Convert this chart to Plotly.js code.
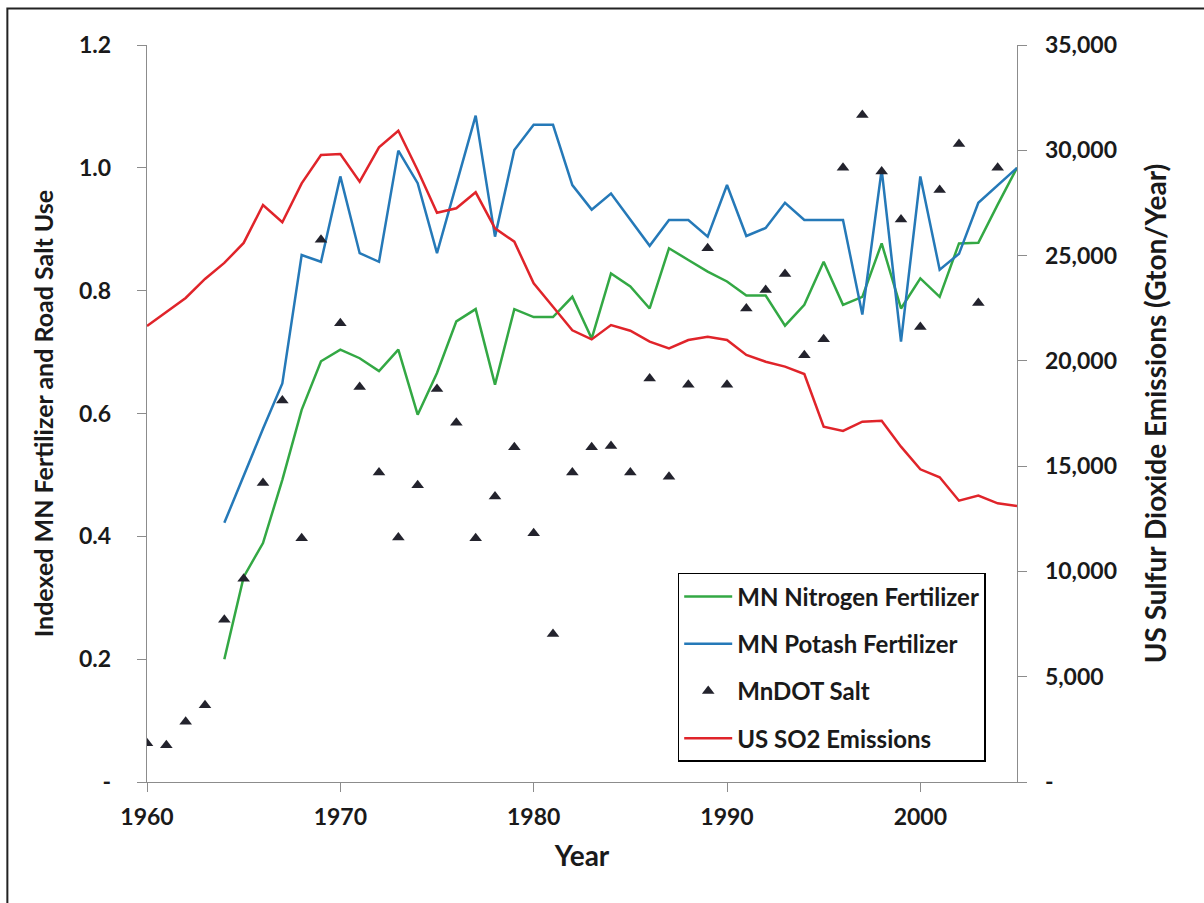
<!DOCTYPE html>
<html>
<head>
<meta charset="utf-8">
<script src="https://cdn.plot.ly/plotly-3.0.1.min.js"></script>
<style>html,body{margin:0;padding:0;background:#fff;}#chart{width:1204px;height:903px;}</style>
</head>
<body>
<div id="chart"></div>
<script>
const years = [];
for (let y = 1960; y <= 2005; y++) years.push(y);

const fertYears = [1964,1965,1966,1967,1968,1969,1970,1971,1972,1973,1974,1975,1976,1977,1978,1979,1980,1981,1982,1983,1984,1985,1986,1987,1988,1989,1990,1991,1992,1993,1994,1995,1996,1997,1998,1999,2000,2001,2002,2003,2004,2005];

const nitrogen = [0.200,0.334,0.389,0.492,0.606,0.685,0.704,0.690,0.669,0.704,0.598,0.666,0.750,0.770,0.647,0.770,0.757,0.757,0.790,0.722,0.828,0.807,0.771,0.869,0.850,0.831,0.815,0.792,0.792,0.743,0.777,0.847,0.777,0.790,0.877,0.771,0.820,0.790,0.877,0.878,0.940,1.000];

const potash = [0.422,0.500,0.575,0.649,0.858,0.847,0.986,0.861,0.847,1.028,0.975,0.861,0.972,1.085,0.888,1.029,1.070,1.070,0.972,0.932,0.958,0.915,0.873,0.915,0.915,0.888,0.972,0.889,0.902,0.943,0.915,0.915,0.915,0.761,0.997,0.717,0.986,0.834,0.860,0.943,0.972,1.000];

const saltYears = [1960,1961,1962,1963,1964,1965,1966,1967,1968,1969,1970,1971,1972,1973,1974,1975,1976,1977,1978,1979,1980,1981,1982,1983,1984,1985,1986,1987,1988,1989,1990,1991,1992,1993,1994,1995,1996,1997,1998,1999,2000,2001,2002,2003,2004];

const salt = [0.063,0.060,0.098,0.125,0.264,0.331,0.487,0.621,0.397,0.883,0.747,0.643,0.504,0.398,0.483,0.640,0.585,0.397,0.465,0.545,0.405,0.241,0.504,0.545,0.547,0.504,0.657,0.497,0.647,0.869,0.647,0.771,0.801,0.827,0.695,0.721,1.000,1.086,0.994,0.916,0.741,0.964,1.039,0.780,1.000];

const so2 = [21650,22320,22985,23890,24650,25600,27400,26580,28430,29775,29820,28510,30140,30930,29050,27035,27245,28005,26295,25660,23680,22570,21450,21020,21700,21430,20910,20595,20990,21140,20990,20280,19960,19725,19375,16875,16670,17110,17160,15925,14850,14470,13360,13600,13235,13110];

const leftTickVals = [0,0.2,0.4,0.6,0.8,1.0,1.2];
const leftTickText = ['-','0.2','0.4','0.6','0.8','1.0','1.2'];
const rightTickVals = [0,5000,10000,15000,20000,25000,30000,35000];
const rightTickText = ['-','5,000','10,000','15,000','20,000','25,000','30,000','35,000'];
const xTickVals = [1960,1970,1980,1990,2000];

const FONT = 'Lato, "Open Sans", sans-serif';
const TXT = '#1a1a1a';
const AX = '#8c8c8c';

const traces = [
  {x: fertYears, y: nitrogen, type: 'scatter', mode: 'lines', name: 'MN Nitrogen Fertilizer',
   line: {color: '#33A844', width: 2.5}, legendgroup: 'a'},
  {x: fertYears, y: potash, type: 'scatter', mode: 'lines', name: 'MN Potash Fertilizer',
   line: {color: '#2579B8', width: 2.5}, legendgroup: 'b'},
  {x: saltYears, y: salt, type: 'scatter', mode: 'markers', name: 'MnDOT Salt',
   marker: {symbol: 'triangle-up', size: 11, color: '#23232d'}, legendgroup: 'c'},
  {x: years, y: so2, type: 'scatter', mode: 'lines', name: 'US SO2 Emissions', yaxis: 'y2',
   line: {color: '#E0242A', width: 2.5}, legendgroup: 'd'}
];

const layout = {
  width: 1204, height: 903,
  margin: {l: 147, r: 187, t: 45, b: 121},
  paper_bgcolor: '#ffffff', plot_bgcolor: '#ffffff',
  font: {family: FONT, color: TXT, size: 20},
  showlegend: true,
  legend: {x: 0.61, y: 0.2836, xanchor: 'left', yanchor: 'top',
    bordercolor: '#000', borderwidth: 1.5, bgcolor: '#fff',
    font: {family: FONT, size: 24, color: TXT, weight: 'bold'},
    tracegroupgap: 13, itemwidth: 48, traceorder: 'grouped'},
  xaxis: {range: [1960, 2005], tickvals: xTickVals, ticks: 'outside', ticklen: 9,
    tickcolor: AX, showline: true, linecolor: AX, linewidth: 1.3,
    showgrid: false, zeroline: false, tickfont: {size: 23, weight: 'bold'}, ticklabelstandoff: 5,
    title: {text: 'Year', font: {size: 28, weight: 'bold'}, standoff: 17}},
  yaxis: {range: [0, 1.2], tickvals: leftTickVals, ticktext: leftTickText, ticks: 'outside',
    ticklen: 9, tickcolor: AX, showline: true, linecolor: AX, linewidth: 1.3,
    showgrid: false, zeroline: false, tickfont: {size: 23, weight: 'bold'}, ticklabelstandoff: 21,
    title: {text: 'Indexed MN Fertilizer and Road Salt Use', font: {size: 25, weight: 'bold'}, standoff: 18}},
  yaxis2: {range: [0, 35000], overlaying: 'y', side: 'right', tickvals: rightTickVals,
    ticktext: rightTickText, ticks: 'outside', ticklen: 9, tickcolor: AX,
    showline: true, linecolor: AX, linewidth: 1.3, showgrid: false, zeroline: false,
    tickfont: {size: 23, weight: 'bold'}, ticklabelstandoff: 13,
    title: {text: 'US Sulfur Dioxide Emissions (Gton/Year)', font: {size: 28, weight: 'bold'}, standoff: 30}},
  shapes: [
    {type: 'rect', xref: 'paper', yref: 'paper', x0: -0.1605, x1: 1.25, y0: -0.2, y1: 1.0495,
     line: {color: '#222', width: 2}, fillcolor: 'rgba(0,0,0,0)'}
  ]
};

Plotly.newPlot('chart', traces, layout, {displayModeBar: false, staticPlot: true});
</script>
</body>
</html>
